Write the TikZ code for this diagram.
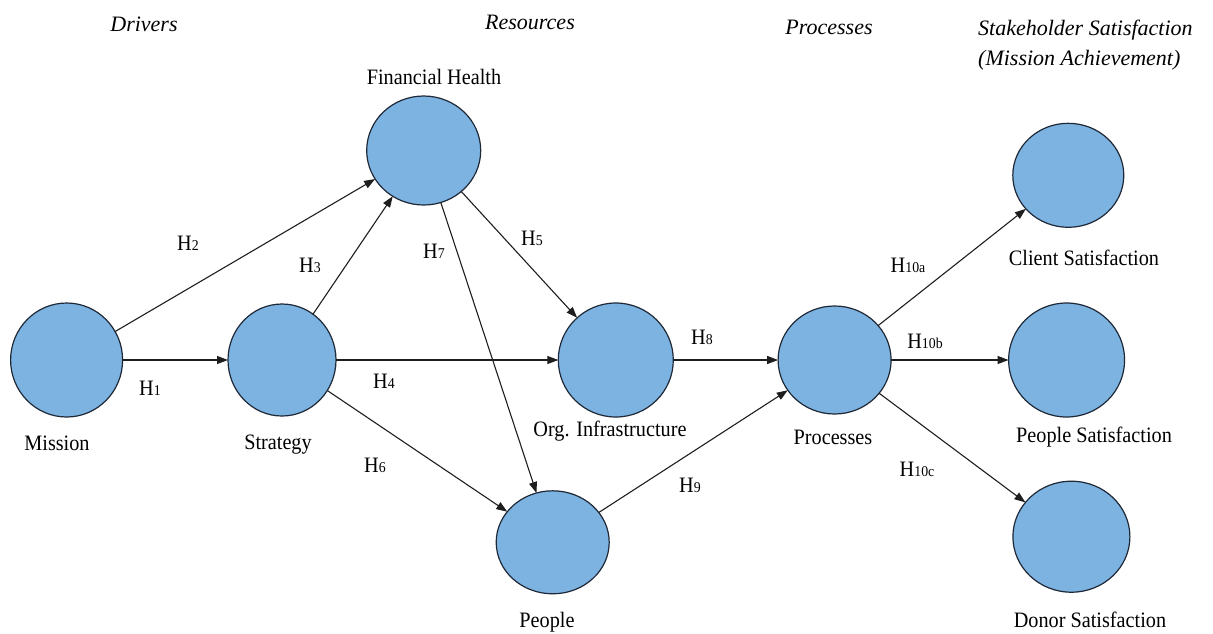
\documentclass[tikz,border=0pt]{standalone}
\usepackage{fontspec}
\setmainfont{Liberation Serif}[FakeStretch=0.92]
\newfontfamily\headfont{Liberation Serif}
\usetikzlibrary{arrows.meta,shapes.geometric}
\definecolor{bubble}{RGB}{125,179,225}
\definecolor{rim}{RGB}{30,40,55}
\definecolor{wire}{RGB}{30,30,30}
% hypothesis tag: H with a small index on the baseline
\newcommand\hlab[1]{H{\fontsize{15}{15}\selectfont #1}}
\begin{document}
\begin{tikzpicture}[x=1pt,y=-1pt,
  construct/.style={ellipse, draw=rim, line width=1.2pt, fill=bubble, inner sep=0pt, outer sep=0pt},
  link/.style={draw=wire, line width=1.1pt, -{Triangle[length=11pt,width=8pt]}},
  caption/.style={anchor=base, inner sep=0pt, font=\fontsize{22}{26}\selectfont},
  hyp/.style={anchor=base, inner sep=0pt, font=\fontsize{22}{26}\selectfont},
  heading/.style={anchor=base, inner sep=0pt, font=\headfont\itshape\fontsize{22}{26}\selectfont}
]
\useasboundingbox (0,0) rectangle (1213,633);

% column headings
\node[heading] (hdrv) at (144,31) {Drivers};
\node[heading] (hres) at (530,29) {Resources};
\node[heading] (hprc) at (829,34) {Processes};
\node[heading, anchor=base west] (hsta) at (978,35) {Stakeholder Satisfaction};
\node[heading, anchor=base west] (hach) at (978,65) {(Mission Achievement)};

% constructs
\node[construct, minimum width=112pt, minimum height=114pt] (mis)  at (66.6,360) {};
\node[construct, minimum width=108pt, minimum height=112pt] (str)  at (282,360) {};
\node[construct, minimum width=114pt, minimum height=109pt] (fin)  at (423.7,150.5) {};
\node[construct, minimum width=115pt, minimum height=114pt] (org)  at (615.8,360) {};
\node[construct, minimum width=113pt, minimum height=103pt] (ppl)  at (552.7,542.3) {};
\node[construct, minimum width=113pt, minimum height=108pt] (prc)  at (834.6,360) {};
\node[construct, minimum width=111pt, minimum height=104pt] (cli)  at (1068.3,175.3) {};
\node[construct, minimum width=116pt, minimum height=114pt] (psat) at (1066.6,360) {};
\node[construct, minimum width=117pt, minimum height=111pt] (don)  at (1071.4,536.7) {};

% construct names
\node[caption] (tmis)  at (57,450)   {Mission};
\node[caption] (tstr)  at (278,449)  {Strategy};
\node[caption] (tfin)  at (434,84)   {Financial Health};
\node[caption] (torg)  at (610,436)  {Org. Infrastructure};
\node[caption] (tppl)  at (547,627)  {People};
\node[caption] (tprc)  at (833,444)  {Processes};
\node[caption] (tcli)  at (1084,265) {Client Satisfaction};
\node[caption] (tpsat) at (1094,442) {People Satisfaction};
\node[caption] (tdon)  at (1090,627) {Donor Satisfaction};

% hypothesised paths
\draw[link] (mis) -- (str);
\draw[link] (mis) -- (fin);
\draw[link] (str) -- (fin);
\draw[link] (str) -- (org);
\draw[link] (str) -- (ppl);
\draw[link] (fin) -- (org);
\draw[link] (fin) -- (ppl);
\draw[link] (org) -- (prc);
\draw[link] (ppl) -- (prc);
\draw[link] (prc) -- (cli);
\draw[link] (prc) -- (psat);
\draw[link] (prc) -- (don);

% hypothesis tags
\node[hyp] (h1)  at (150,395) {\hlab{1}};
\node[hyp] (h2)  at (188,250) {\hlab{2}};
\node[hyp] (h3)  at (310,272) {\hlab{3}};
\node[hyp] (h4)  at (384,388) {\hlab{4}};
\node[hyp] (h5)  at (532,245) {\hlab{5}};
\node[hyp] (h6)  at (375,472) {\hlab{6}};
\node[hyp] (h7)  at (434,258) {\hlab{7}};
\node[hyp] (h8)  at (702,344) {\hlab{8}};
\node[hyp] (h9)  at (690,492) {\hlab{9}};
\node[hyp] (h10a) at (908,272) {\hlab{10a}};
\node[hyp] (h10b) at (925,348) {\hlab{10b}};
\node[hyp] (h10c) at (917,476) {\hlab{10c}};
\end{tikzpicture}
\end{document}
